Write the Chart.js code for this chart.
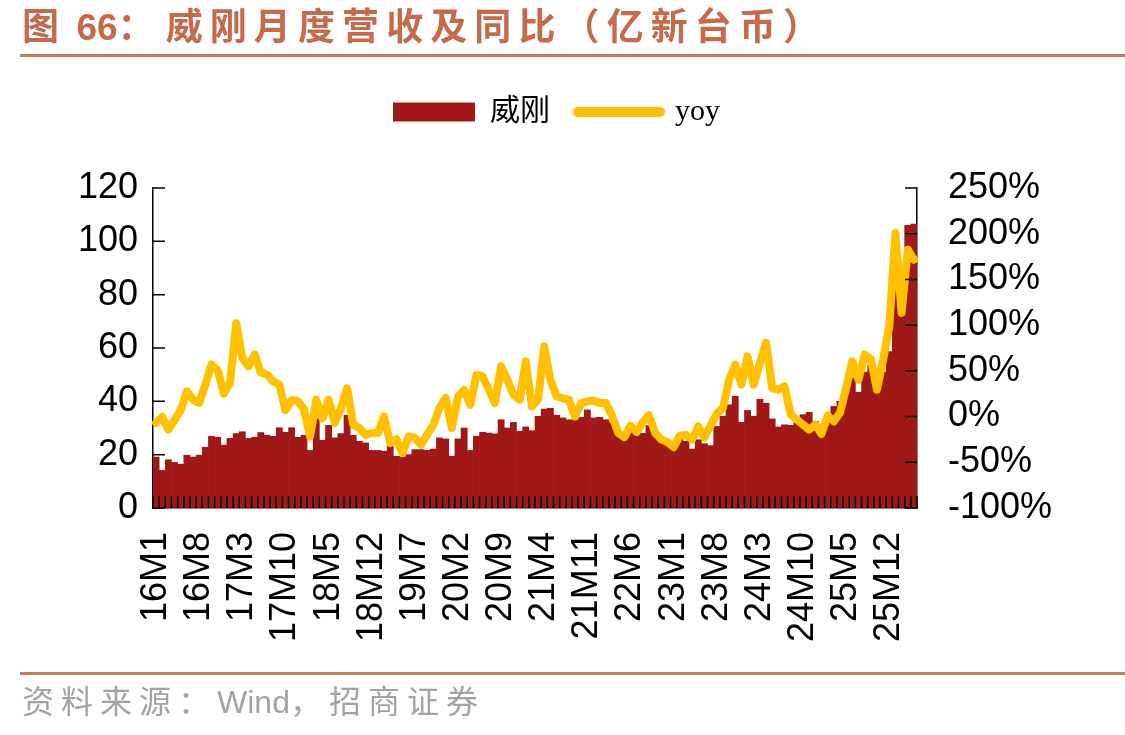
<!DOCTYPE html>
<html><head><meta charset="utf-8">
<script src="https://cdn.jsdelivr.net/npm/chart.js@4.4.1/dist/chart.umd.min.js"></script>
<style>
html,body{margin:0;padding:0;background:#fff;}
#wrap{position:relative;width:1125px;height:735px;overflow:hidden;}
#title{position:absolute;left:22px;top:4px;font:700 37px "Liberation Sans","Noto Sans CJK SC",sans-serif;color:#C46B4C;white-space:nowrap;line-height:48px;}
#title .c{letter-spacing:7.1px;}
.rule{position:absolute;left:20px;width:1105px;height:3px;background:#C97A5B;}
#src{position:absolute;left:22px;top:682px;font:400 32px "Liberation Sans","Noto Sans CJK SC",sans-serif;color:#A3A3A3;white-space:nowrap;line-height:40px;}
#src .c{letter-spacing:7px;}
canvas{position:absolute;left:0;top:0;}
</style></head>
<body><div id="wrap">
<canvas id="c" width="1125" height="735"></canvas>
<div id="title"><span class="c">图</span> 66<span class="c">：</span><span class="c" style="margin-left:4px">威刚月度营收及同比（亿新台币）</span></div>
<div class="rule" style="top:54px"></div>
<div class="rule" style="top:672px"></div>
<div id="src"><span class="c">资料来源：</span>Wind<span class="c">，招商证券</span></div>
</div>
<script>
const categories = [
'16M1','16M2','16M3','16M4','16M5','16M6','16M7','16M8','16M9','16M10','16M11','16M12',
'17M1','17M2','17M3','17M4','17M5','17M6','17M7','17M8','17M9','17M10','17M11','17M12',
'18M1','18M2','18M3','18M4','18M5','18M6','18M7','18M8','18M9','18M10','18M11','18M12',
'19M1','19M2','19M3','19M4','19M5','19M6','19M7','19M8','19M9','19M10','19M11','19M12',
'20M1','20M2','20M3','20M4','20M5','20M6','20M7','20M8','20M9','20M10','20M11','20M12',
'21M1','21M2','21M3','21M4','21M5','21M6','21M7','21M8','21M9','21M10','21M11','21M12',
'22M1','22M2','22M3','22M4','22M5','22M6','22M7','22M8','22M9','22M10','22M11','22M12',
'23M1','23M2','23M3','23M4','23M5','23M6','23M7','23M8','23M9','23M10','23M11','23M12',
'24M1','24M2','24M3','24M4','24M5','24M6','24M7','24M8','24M9','24M10','24M11','24M12',
'25M1','25M2','25M3','25M4','25M5','25M6','25M7','25M8','25M9','25M10','25M11','25M12',
'26M1','26M2','26M3','26M4'
];
// 威刚 monthly revenue (亿新台币)
const revenue = [
19.1,14.1,18.1,17.1,16.4,19.8,19.1,19.8,22.8,26.9,26.5,23.6,
26.1,27.9,28.6,26.1,26.5,28.3,27.3,26.9,30.1,28.4,30.1,26.5,
27.3,21.6,33.5,25.4,31.0,26.3,27.9,34.8,27.3,25.0,24.4,21.6,
21.6,21.3,23.1,19.4,19.1,20.0,21.9,21.9,21.6,22.1,26.3,25.9,
19.4,25.9,30.0,21.6,26.9,28.4,28.1,27.8,33.1,30.0,32.1,28.8,
30.4,29.0,34.4,37.1,37.4,34.8,33.8,33.1,32.9,34.0,36.8,33.8,
34.0,33.1,32.0,28.0,27.5,28.5,27.5,28.0,30.9,27.5,25.6,23.7,
22.0,27.0,25.0,22.1,25.6,24.1,23.4,30.6,34.4,38.7,41.9,32.1,
36.6,34.4,40.8,39.3,33.4,30.4,31.2,31.0,32.0,35.0,35.9,32.5,
28.5,34.5,38.1,40.0,44.4,48.7,43.4,51.0,53.5,45.5,51.0,58.7,
85.0,75.0,106.0,106.5
];
// yoy (%)
const yoy = [
-7,-0.5,-14,-4,7,27.6,18.5,15,35,57,51,25,
37,102,64,55,68,48,46,38.5,35,7,18,17,
8,-22,18.5,-2,18.5,-7,9,31,-9,-12.5,-20,-18,
-18,0,-29,-24.5,-40,-21.6,-23.4,-30.7,-19.8,-9,9.4,20.3,
-12.5,22,29.4,13,45.8,44,29.4,14.8,55,40.4,24,18.5,
60.4,11,18.5,76.8,40.3,22,20,18.5,0,14.8,16.7,17.5,
14.8,14.8,1,-18,-22.5,-10,-17,-6,1.5,-18,-25,-28,
-33.5,-21,-20,-25,-10.7,-23,-10,3,9.4,40.3,56.7,35,
65.8,35,58.6,81,31.2,29.4,33,2,-3.4,-8.9,-14.4,-8.9,
-19,1,-5.3,3.9,31.2,60.3,40.3,67.7,63,29.4,62.3,98.6,
200.8,113.3,182.5,171.6
];
const leftTicks = {min:0, max:120, step:20};
const rightTicks = {min:-100, max:250, step:50};
const labelEvery = 7;

const BAR = '#A01917', LINE = '#FFC000';
const axisFont = {family:'"Liberation Sans", Arial, sans-serif', size:36};

const legendGap = {id:'legendGap', afterInit(chart){
  const lg = chart.legend; if(!lg) return;
  const orig = lg.fit;
  lg.fit = function(){ orig.call(this); this.height += 51; };
}};
const inwardTicks = {id:'inwardTicks', afterDraw(chart){
  const {ctx, chartArea:a, scales:{x, y, y1}} = chart;
  ctx.save(); ctx.strokeStyle = '#000'; ctx.lineWidth = 1.5; ctx.beginPath();
  y.ticks.forEach(t => { const p = y.getPixelForValue(t.value); ctx.moveTo(a.left, p); ctx.lineTo(a.left + 12, p); });
  y1.ticks.forEach(t => { const p = y1.getPixelForValue(t.value); ctx.moveTo(a.right, p); ctx.lineTo(a.right - 12, p); });
  for (let i = 0; i <= categories.length; i++) { const p = x.getPixelForValue(i - 0.5); ctx.moveTo(p, a.bottom); ctx.lineTo(p, a.bottom - 12); }
  ctx.stroke(); ctx.restore();
}};

new Chart(document.getElementById('c'), {
  type: 'bar',
  data: {
    labels: categories,
    datasets: [
      {type:'line', label:'yoy', data:yoy, yAxisID:'y1', borderColor:LINE, backgroundColor:LINE,
       borderWidth:8, pointRadius:0, tension:0, borderJoinStyle:'round', borderCapStyle:'round', order:0},
      {type:'bar', label:'威刚', data:revenue, yAxisID:'y', backgroundColor:BAR,
       categoryPercentage:1, barPercentage:1, order:1}
    ]
  },
  options: {
    responsive:false, animation:false, devicePixelRatio:1,
    layout:{padding:{top:69, left:-12, right:0, bottom:0}},
    plugins:{
      tooltip:{enabled:false},
      legend:{position:'top', align:'center',
        labels:{usePointStyle:true, pointStyleWidth:82, boxHeight:19, padding:28, color:'#000',
          font:{family:'"Liberation Serif", "Noto Sans CJK SC", serif', size:30},
          generateLabels: () => [
            {text:'威刚', fillStyle:BAR, strokeStyle:BAR, lineWidth:0, pointStyle:'rect', datasetIndex:1, fontColor:'#000'},
            {text:'yoy', fillStyle:LINE, strokeStyle:LINE, lineWidth:10, lineCap:'round', pointStyle:'line', datasetIndex:0, fontColor:'#000'}
          ]}}
    },
    scales:{
      x:{z:1, grid:{display:false, drawTicks:false}, border:{display:true, color:'#000', width:1.5},
        ticks:{autoSkip:false, minRotation:90, maxRotation:90, padding:24, color:'#000', font:axisFont,
          callback:(v, i) => i % labelEvery === 0 ? categories[i] : ''},
        afterFit: s => { s.height = 227; }},
      y:{z:1, position:'left', min:leftTicks.min, max:leftTicks.max,
        grid:{display:false, drawTicks:false}, border:{display:true, color:'#000', width:1.5},
        ticks:{autoSkip:false, stepSize:leftTicks.step, padding:15, color:'#000', font:axisFont},
        afterFit: s => { s.width = 165; }},
      y1:{z:1, position:'right', min:rightTicks.min, max:rightTicks.max,
        grid:{display:false, drawTicks:false}, border:{display:true, color:'#000', width:1.5},
        ticks:{autoSkip:false, stepSize:rightTicks.step, padding:31, color:'#000', font:axisFont, callback: v => v + '%'},
        afterFit: s => { s.width = 208; }}
    }
  },
  plugins:[legendGap, inwardTicks]
});
</script>
</body></html>
